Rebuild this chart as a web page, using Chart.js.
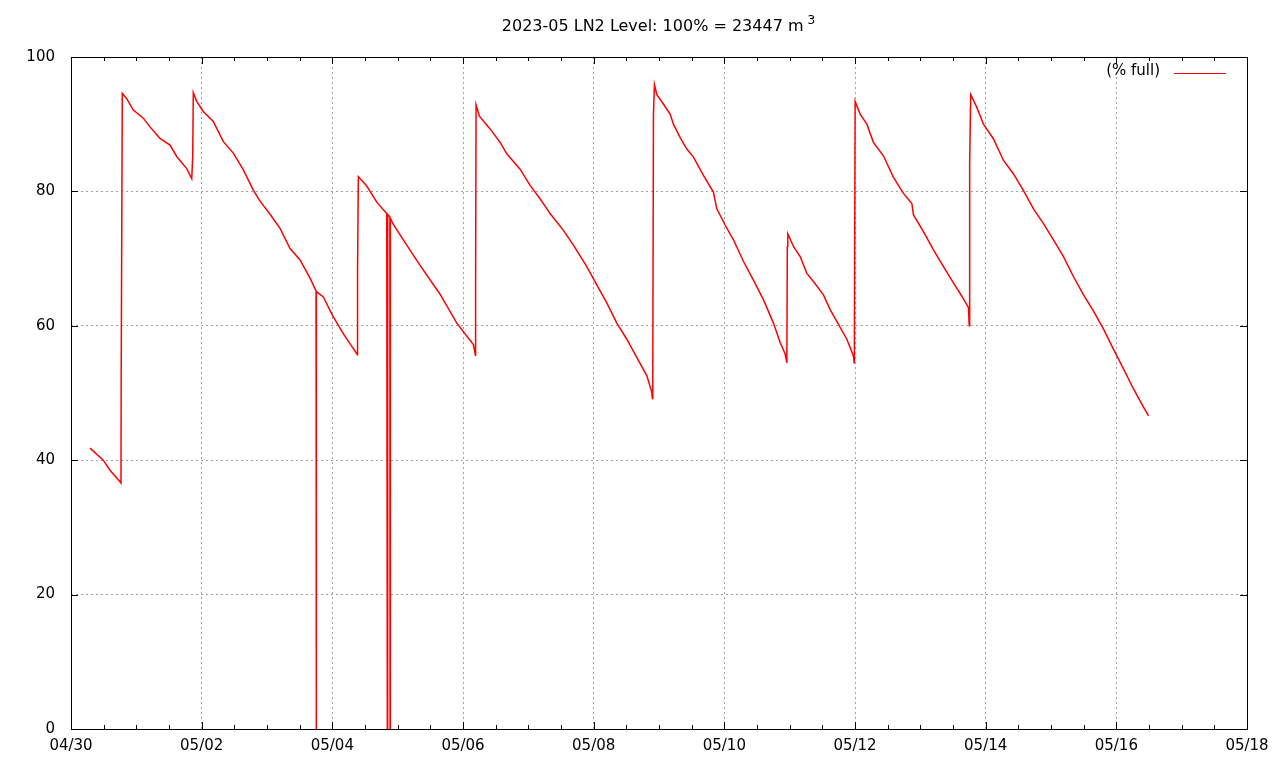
<!DOCTYPE html>
<html>
<head>
<meta charset="utf-8">
<script src="https://cdn.jsdelivr.net/npm/chart.js@4/dist/chart.umd.min.js"></script>
<style>
  html, body { margin: 0; padding: 0; background: #fff; }
  #myChart { display: block; }
</style>
</head>
<body>
<canvas id="myChart" width="1280" height="768"></canvas>
<script>
// days since 04/30 00:00
const dayValues = [
  0.291, 0.494, 0.597, 0.750, 0.765, 0.768, 0.785, 0.853, 0.954, 1.107, 1.209, 1.362, 1.516, 1.618, 1.771, 1.848,
  1.863, 1.872, 1.924, 2.025, 2.178, 2.332, 2.485, 2.638, 2.791, 2.883, 3.047, 3.200, 3.353, 3.506, 3.659, 3.751,
  3.754, 3.757, 3.863, 4.000, 4.169, 4.322, 4.383, 4.386, 4.398, 4.527, 4.680, 4.833, 4.842, 4.847, 4.881, 4.884,
  4.888, 4.934, 5.139, 5.343, 5.649, 5.905, 6.159, 6.190, 6.193, 6.200, 6.251, 6.415, 6.568, 6.670, 6.874, 7.027,
  7.180, 7.333, 7.537, 7.690, 7.895, 8.048, 8.201, 8.354, 8.507, 8.660, 8.813, 8.890, 8.899, 8.905, 8.915, 8.930,
  8.967, 9.068, 9.170, 9.221, 9.324, 9.426, 9.527, 9.680, 9.833, 9.885, 10.012, 10.139, 10.292, 10.445, 10.598, 10.752,
  10.854, 10.931, 10.957, 10.964, 10.972, 11.058, 11.161, 11.263, 11.364, 11.517, 11.620, 11.747, 11.875, 11.976, 11.987, 11.991,
  12.002, 12.079, 12.181, 12.282, 12.435, 12.589, 12.742, 12.870, 12.895, 13.048, 13.201, 13.354, 13.507, 13.636, 13.737, 13.748,
  13.755, 13.771, 13.865, 13.966, 14.120, 14.273, 14.426, 14.579, 14.732, 14.885, 15.038, 15.191, 15.345, 15.498, 15.651, 15.804,
  15.957, 16.110, 16.263, 16.416, 16.493
];
// % full
const levelValues = [
  41.8, 40.0, 38.5, 36.8, 36.6, 51.9, 94.6, 93.8, 92.1, 90.9, 89.6, 87.9, 86.9, 85.2, 83.4, 81.9,
  85.2, 94.7, 93.4, 91.9, 90.4, 87.4, 85.7, 83.2, 80.2, 78.7, 76.6, 74.5, 71.5, 69.8, 67.1, 65.2,
  0, 65.1, 64.3, 61.6, 58.8, 56.6, 55.7, 68.2, 82.2, 80.8, 78.4, 76.7, 0, 76.6, 76.2, 0,
  76.0, 75.1, 72.0, 69.0, 64.7, 60.4, 57.2, 55.6, 66.3, 92.9, 91.2, 89.3, 87.3, 85.6, 83.3, 80.9,
  78.9, 76.7, 74.2, 72.0, 68.8, 66.1, 63.4, 60.4, 58.0, 55.3, 52.6, 50.1, 49.2, 53.3, 91.5, 95.9,
  94.4, 93.0, 91.5, 90.0, 88.0, 86.3, 85.1, 82.4, 79.9, 77.4, 75.0, 72.8, 69.6, 66.8, 63.9, 60.4,
  57.5, 55.8, 54.5, 71.8, 73.7, 71.8, 70.3, 67.8, 66.6, 64.6, 62.4, 60.2, 58.0, 55.5, 54.5, 59.0,
  93.4, 91.5, 90.0, 87.3, 85.3, 82.1, 79.7, 78.2, 76.5, 74.0, 71.3, 68.8, 66.4, 64.4, 62.7, 60.0,
  84.1, 94.4, 92.5, 90.0, 87.8, 84.6, 82.6, 80.1, 77.4, 75.2, 72.8, 70.3, 67.3, 64.6, 62.2, 59.5,
  56.5, 53.6, 50.6, 47.9, 46.6
];
const xTickLabels = ['04/30', '05/02', '05/04', '05/06', '05/08', '05/10', '05/12', '05/14', '05/16', '05/18'];
const yTickValues = [0, 20, 40, 60, 80, 100];
const titleText = '2023-05 LN2 Level: 100% = 23447 m';
const titleSup = '3';
const seriesName = '(% full)';

const FONT = '15px "DejaVu Sans", sans-serif';
const TITLE_FONT = '16px "DejaVu Sans", sans-serif';
const SUP_FONT = '12px "DejaVu Sans", sans-serif';
const GRID = '#a0a0a0';

// gnuplot-ish frame: box, inward ticks, title, key
const framePlugin = {
  id: 'frame',
  afterDraw(chart) {
    const c = chart.ctx;
    const a = chart.chartArea;
    const xs = chart.scales.x, ys = chart.scales.y;
    c.save();
    c.strokeStyle = '#000';
    c.lineWidth = 1;
    c.beginPath();
    for (let v = 0; v <= 18; v += 0.5) {
      const px = Math.round(xs.getPixelForValue(v)) + 0.5;
      const len = v % 2 === 0 ? 7 : 4;
      c.moveTo(px, a.bottom); c.lineTo(px, a.bottom - len);
      c.moveTo(px, a.top); c.lineTo(px, a.top + len);
    }
    yTickValues.forEach(v => {
      const py = Math.round(ys.getPixelForValue(v)) + 0.5;
      c.moveTo(a.left, py); c.lineTo(a.left + 7, py);
      c.moveTo(a.right, py); c.lineTo(a.right - 7, py);
    });
    c.stroke();
    c.strokeRect(Math.round(a.left) + 0.5, Math.round(a.top) + 0.5,
      Math.round(a.right - a.left), Math.round(a.bottom - a.top));

    // title
    c.fillStyle = '#000';
    c.textBaseline = 'middle';
    c.font = TITLE_FONT;
    const w1 = c.measureText(titleText + ' ').width;
    c.font = SUP_FONT;
    const w2 = c.measureText(titleSup).width;
    const x0 = (a.left + a.right) / 2 - (w1 + w2) / 2;
    c.font = TITLE_FONT;
    c.textAlign = 'left';
    c.fillText(titleText, x0, 27);
    c.font = SUP_FONT;
    c.fillText(titleSup, x0 + w1 - 1, 21);

    // key
    c.font = FONT;
    c.textAlign = 'right';
    c.fillText(seriesName, a.right - 87, 71);
    c.strokeStyle = '#ff0000';
    c.beginPath();
    c.moveTo(a.right - 73, 73.5); c.lineTo(a.right - 21, 73.5);
    c.stroke();
    c.restore();
  }
};

new Chart(document.getElementById('myChart'), {
  type: 'line',
  data: {
    datasets: [{
      label: seriesName,
      data: dayValues.map((d, i) => ({ x: d, y: levelValues[i] })),
      borderColor: '#ff0000',
      borderWidth: 1.5,
      pointRadius: 0,
      tension: 0,
      fill: false
    }]
  },
  options: {
    responsive: false,
    animation: false,
    devicePixelRatio: 1,
    layout: { padding: { top: 57, right: 33, left: 0, bottom: 0 } },
    plugins: { legend: { display: false }, title: { display: false }, tooltip: { enabled: false } },
    scales: {
      x: {
        type: 'linear',
        min: 0, max: 18,
        afterFit: s => { s.height = 39; },
        afterBuildTicks: s => {
          const t = [];
          for (let v = 0; v <= 18; v += 0.5) t.push({ value: v });
          s.ticks = t;
        },
        ticks: {
          autoSkip: false, maxRotation: 0, padding: 8,
          color: '#000', font: { family: 'DejaVu Sans', size: 15 },
          callback: v => (v % 2 === 0 ? xTickLabels[v / 2] : '')
        },
        grid: {
          drawTicks: false,
          color: ctx => (ctx.tick && ctx.tick.value % 2 === 0 && ctx.tick.value > 0 && ctx.tick.value < 18) ? GRID : 'rgba(0,0,0,0)'
        },
        border: { display: false, dash: [2, 3] }
      },
      y: {
        min: 0, max: 100,
        afterFit: s => { s.width = 71; },
        afterBuildTicks: s => { s.ticks = yTickValues.map(v => ({ value: v })); },
        ticks: { padding: 16, color: '#000', font: { family: 'DejaVu Sans', size: 15 } },
        grid: {
          drawTicks: false,
          color: ctx => (ctx.tick && ctx.tick.value > 0 && ctx.tick.value < 100) ? GRID : 'rgba(0,0,0,0)'
        },
        border: { display: false, dash: [2, 3] }
      }
    }
  },
  plugins: [framePlugin]
});
</script>
</body>
</html>
